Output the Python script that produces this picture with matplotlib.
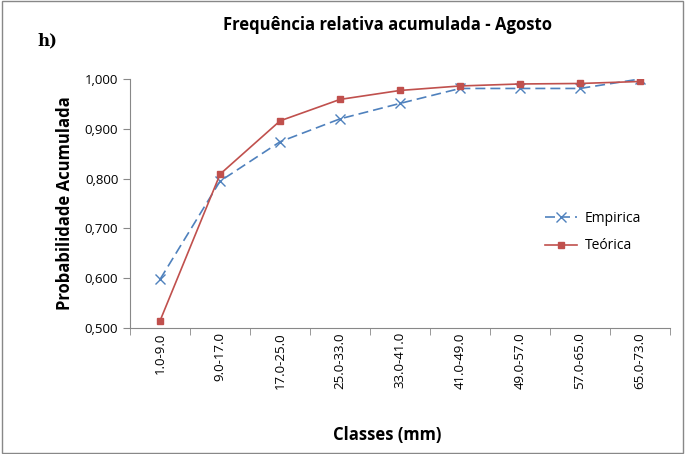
import matplotlib as mp
mp.use("Agg")
import matplotlib.pyplot as plt
import matplotlib.ticker as mticker
import numpy as np

classes = ["1.0-9.0", "9.0-17.0", "17.0-25.0", "25.0-33.0", "33.0-41.0",
           "41.0-49.0", "49.0-57.0", "57.0-65.0", "65.0-73.0"]
empirica = [0.598, 0.795, 0.874, 0.920, 0.951, 0.981, 0.981, 0.981, 1.000]
teorica = [0.515, 0.809, 0.916, 0.959, 0.977, 0.986, 0.990, 0.991, 0.995]

mp.rcParams["font.family"] = ["Open Sans", "DejaVu Sans"]

fig = plt.figure(figsize=(6.85, 4.54), dpi=100)
ax = fig.add_axes([0.19, 0.2775, 0.788, 0.5485])

x = np.arange(len(classes))
ax.plot(x, empirica, color="#4F81BD", ls=(0, (6, 3)), lw=1.2, marker="x",
        ms=7, mew=1.0, label="Empirica")
ax.plot(x, teorica, color="#C0504D", ls="-", lw=1.2, marker="s",
        ms=5, label="Teórica")

ax.set_xlim(-0.5, len(classes) - 0.5)
ax.set_ylim(0.5, 1.0)
ax.set_yticks(np.arange(0.5, 1.0001, 0.1))
ax.yaxis.set_major_formatter(mticker.FuncFormatter(lambda v, p: f"{v:.3f}".replace(".", ",")))
ax.set_xticks(x)
ax.set_xticklabels(classes, rotation=90, fontsize=9.5)
ax.set_xticks(np.arange(-0.5, len(classes), 1), minor=True)
ax.tick_params(axis="x", which="major", length=0, pad=3)
ax.tick_params(axis="x", which="minor", length=5, color="#888888")
ax.tick_params(axis="y", length=5, color="#888888", labelsize=9.5)

for s in ["top", "right"]:
    ax.spines[s].set_visible(False)
for s in ["left", "bottom"]:
    ax.spines[s].set_color("#888888")

ax.set_ylabel("Probabilidade Acumulada", fontsize=12, fontweight="bold", labelpad=8)
fig.text(0.565, 0.03, "Classes (mm)", ha="center", fontsize=12, fontweight="bold")
fig.text(0.565, 0.935, "Frequência relativa acumulada - Agosto", ha="center",
         fontsize=12, fontweight="bold")
fig.text(0.055, 0.9, "h)", fontsize=12, fontweight="bold", family="DejaVu Serif")

ax.legend(loc="center left", bbox_to_anchor=(0.745, 0.385), frameon=False,
          fontsize=10, handlelength=2.3, labelspacing=0.9, handletextpad=0.6)

fig.patches.append(plt.Rectangle((0.003, 0.003), 0.994, 0.994, transform=fig.transFigure,
                                 fill=False, edgecolor="#888888", lw=1))

fig.savefig("out.png", dpi=100)
